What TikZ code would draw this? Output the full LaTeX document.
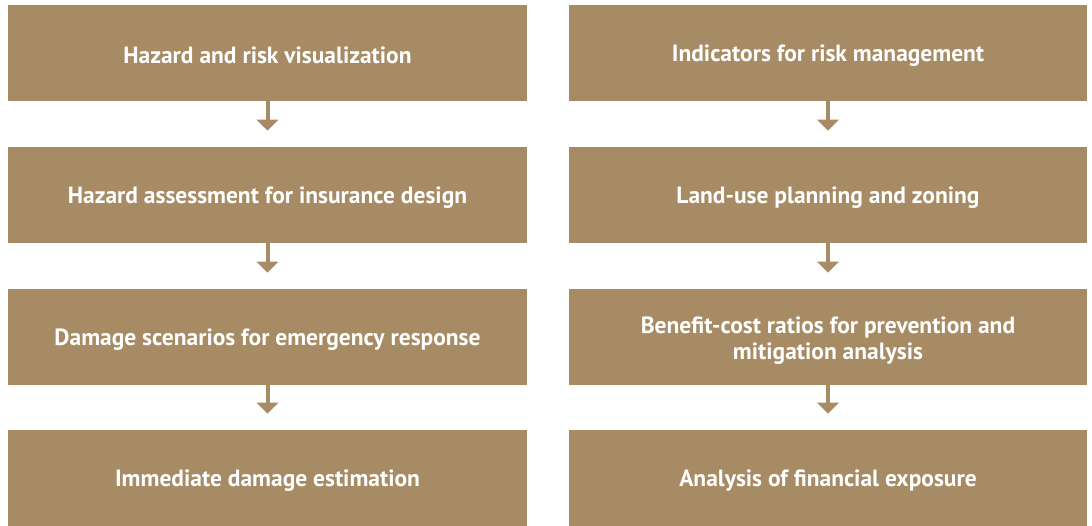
\documentclass[tikz,border=0pt]{standalone}
\usepackage{fontspec}
\setmainfont{PT Sans}
\usetikzlibrary{arrows.meta}
\definecolor{boxbrown}{RGB}{166,139,100}
\begin{document}
\begin{tikzpicture}[x=0.75pt,y=0.75pt,yscale=-1,xscale=1,
	boxtext/.style={inner sep=0pt,align=center,text=white,font=\bfseries\fontsize{17.6}{19.5}\selectfont},
	box/.style={boxtext,fill=boxbrown,draw=none,minimum width=389pt,minimum height=72pt,execute at begin node={\rule{0pt}{16pt}}},
	link/.style={draw=boxbrown,line width=3pt,-{Triangle[width=15.75pt,length=8.25pt]},shorten >=12pt}]
	\useasboundingbox (0,0) rectangle (1092,525);
	
	% Left column
	\node [box] (hazvis) at (267.5,53) {Hazard and risk visualization};
	\node [box] (hazins) at (267.5,195) {Hazard assessment for insurance design};
	\node [box] (damscen) at (267.5,337) {Damage scenarios for emergency response};
	\node [box] (damest) at (267.5,478) {Immediate damage estimation};
	
	% Right column
	\node [box] (indic) at (828,53) {Indicators for risk management};
	\node [box] (landuse) at (828,195) {Land-use planning and zoning};
	\node [box] (bcr) at (828,337) {};
	\node [boxtext] (bcrtext) at (828,341) {Benefit-cost ratios for prevention and\\mitigation analysis};
	\node [box] (finexp) at (828,478) {Analysis of financial exposure};
	
	% Arrows
	\draw [link] (hazvis) -- (hazins);
	\draw [link] (hazins) -- (damscen);
	\draw [link] (damscen) -- (damest);
	\draw [link] (indic) -- (landuse);
	\draw [link] (landuse) -- (bcr);
	\draw [link] (bcr) -- (finexp);
	
\end{tikzpicture}
\end{document}
